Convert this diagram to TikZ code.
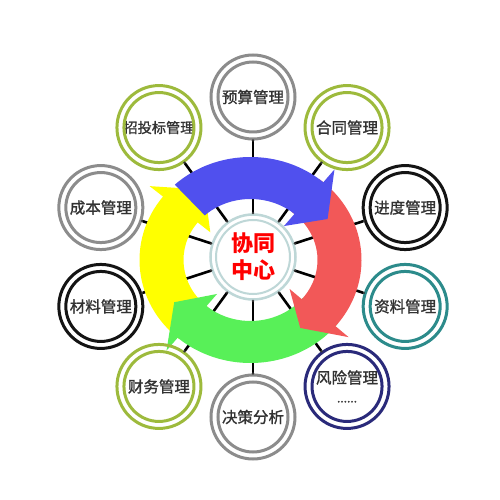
\documentclass[tikz,border=0pt]{standalone}
\usepackage{fontspec}
\newfontfamily\cjk[FakeBold=1.2]{Noto Sans CJK SC}
\newfontfamily\cjkc{Noto Sans CJK SC}
\definecolor{cblue}{RGB}{80,80,238}
\definecolor{cred}{RGB}{242,88,88}
\definecolor{cgreen}{RGB}{88,240,88}
\definecolor{cyellow}{RGB}{255,255,0}
\definecolor{rgray}{RGB}{140,140,140}
\definecolor{rgreen}{RGB}{157,186,60}
\definecolor{rblack}{RGB}{20,20,20}
\definecolor{rteal}{RGB}{44,139,139}
\definecolor{rnavy}{RGB}{42,42,122}
\definecolor{rcenter}{RGB}{190,215,215}
\definecolor{tgray}{RGB}{50,50,50}
\newcommand\cyclearrow[4]{%
  \fill[#1] (#2:111 and 103) arc[start angle=#2, end angle=#3, x radius=111, y radius=103]
    -- (#3:128 and 120) -- (#4:89 and 82) -- (#3:51 and 45) -- (#3:67 and 61)
    arc[start angle=#3, end angle=#2, x radius=67, y radius=61] -- cycle;}
\begin{document}
\begin{tikzpicture}[x=1pt,y=1pt,
  hub/.style={circle, minimum size=88pt, inner sep=0pt, outer sep=0pt, font=\cjkc\fontsize{22}{27}\selectfont, text=red, align=center},
  sat/.style={circle, minimum size=88pt, inner sep=0pt, outer sep=0pt, font=\cjk\fontsize{15.5}{22}\selectfont, text=tgray, align=center},
  spoke/.style={line width=2.6pt, black},
  ringo/.style={line width=3pt},
  dot/.style={fill=black!80}]
\useasboundingbox (-253,-243) rectangle (247,257);
\fill[white] (-253,-243) rectangle (247,257);

\node[hub] (c) at (0,0) {\bfseries 协同\\\bfseries 中心};
\node[sat] (s0) at (90:160) {预算管理};
\node[sat] (s1) at (54:160) {合同管理};
\node[sat] (s2) at (18:160) {进度管理};
\node[sat] (s3) at (-18:160) {资料管理};
\node[sat] (s4) at (-54:160) {风险管理\\[-3pt]{\fontsize{12}{12}\selectfont ......}};
\node[sat] (s5) at (-90:160) {决策分析};
\node[sat] (s6) at (-126:160) {财务管理};
\node[sat] (s7) at (-162:160) {材料管理};
\node[sat] (s8) at (162:160) {成本管理};
\node[sat, font=\cjk\fontsize{14.2}{20}\selectfont] (s9) at (126:160) {招投标管理};

% spokes
\foreach \i in {0,...,9} {
  \draw[spoke] (c) -- (s\i);
}

% cycle arrows
\begin{scope}[shift={(-2.5,-3)}]
  \cyclearrow{cyellow}{230}{142}{121}
  \cyclearrow{cgreen}{-38}{-131}{-149}
  \cyclearrow{cred}{52}{-40}{-56}
  \cyclearrow{cblue}{133}{49}{30}
\end{scope}

% center rings
\draw[rcenter, line width=2.5pt] (c.center) circle (42.5);
\draw[rcenter, line width=2pt] (c.center) circle (37);

% satellite rings
\foreach \i/\col in {0/rgray,1/rgreen,2/rblack,3/rteal,4/rnavy,5/rgray,6/rgreen,7/rblack,8/rgray,9/rgreen} {
  \draw[\col, ringo] (s\i.center) circle (42);
  \draw[\col, ringo] (s\i.center) circle (35);
}

% dots at spoke ends
\foreach \i in {0,...,9} {
  \pgfmathsetmacro\ang{90-36*\i}
  \fill[dot] (\ang:44) circle (1.3);
  \fill[dot] (\ang:116.5) circle (1.3);
}
\end{tikzpicture}
\end{document}
